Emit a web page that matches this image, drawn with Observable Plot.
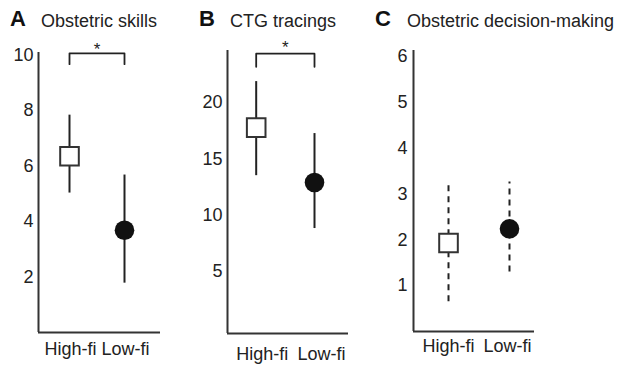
<!DOCTYPE html>
<html>
<head>
<meta charset="utf-8">
<script src="https://cdn.jsdelivr.net/npm/d3@7"></script>
<script src="https://cdn.jsdelivr.net/npm/@observablehq/plot@0.6"></script>
<style>
  html, body { margin: 0; padding: 0; background: #fff; }
  #chart { position: relative; width: 624px; height: 367px; overflow: hidden; font-family: "Liberation Sans", Arial, Helvetica, sans-serif; color: #222; }
  .panel { position: absolute; top: 0; }
  .title { position: absolute; font-size: 18px; line-height: 18px; white-space: nowrap; color: #222; }
  .letter { position: absolute; font-size: 22px; line-height: 22px; font-weight: bold; color: #111; }
</style>
</head>
<body>
<div id="chart"></div>
<script>
// ---- data ----
const groups = ["High-fi", "Low-fi"];

const skillsMean = [6.36, 3.69];
const skillsLo   = [5.03, 1.78];
const skillsHi   = [7.84, 5.68];

const ctgMean = [17.78, 12.89];
const ctgLo   = [13.5, 8.79];
const ctgHi   = [21.88, 17.25];

const decisionMean = [1.93, 2.24];
const decisionLo   = [0.65, 1.30];
const decisionHi   = [3.24, 3.26];

const ticksA = [2, 4, 6, 8, 10];
const ticksB = [5, 10, 15, 20];
const ticksC = [1, 2, 3, 4, 5, 6];

const panelLetters = ["A", "B", "C"];
const panelTitles = ["Obstetric skills", "CTG tracings", "Obstetric decision-making"];

// significance brackets: top of bracket, bottom of legs, star position
const bracketA = { top: 10.07, leg: 9.68, star: 10.2 };
const bracketB = { top: 24.37, leg: 23.2, star: 24.95 };

// ---- drawing ----
const chart = document.getElementById("chart");

function panel(opts) {
  const rows = groups.map((g, i) => ({ i, g, mean: opts.mean[i], lo: opts.lo[i], hi: opts.hi[i] }));
  const marks = [
    Plot.ruleX([opts.xDomain[0]], { stroke: "#333", strokeWidth: 2 }),
    Plot.ruleY([opts.yDomain[0]], { stroke: "#333", strokeWidth: 2 }),
    Plot.ruleX(rows, { x: "i", y1: "lo", y2: "hi", stroke: "#222", strokeWidth: 2,
      strokeDasharray: opts.dashed ? "6,5" : null }),
    Plot.dot(rows.filter(d => d.i === 0), { x: "i", y: "mean", symbol: "square", r: 10.5,
      fill: "white", stroke: "#333", strokeWidth: 2 }),
    Plot.dot(rows.filter(d => d.i === 1), { x: "i", y: "mean", r: 9.8, fill: "#111", stroke: "none" }),
    Plot.axisY({ ticks: opts.ticks, tickSize: 0, tickPadding: opts.yPad, fontSize: 18, label: null, tickFormat: d => d, fill: "#222" }),
    Plot.axisX([0], { tickSize: 0, tickPadding: opts.xPad, fontSize: 18, label: null,
      tickFormat: i => groups[i], dx: opts.dx0, fill: "#222" }),
    Plot.axisX([1], { tickSize: 0, tickPadding: opts.xPad, fontSize: 18, label: null,
      tickFormat: i => groups[i], dx: opts.dx1, fill: "#222" })
  ];
  if (opts.bracket) {
    const b = opts.bracket;
    marks.push(Plot.line([
      { x: 0, y: b.leg }, { x: 0, y: b.top }, { x: 1, y: b.top }, { x: 1, y: b.leg }
    ], { x: "x", y: "y", stroke: "#222", strokeWidth: 1.8 }));
    marks.push(Plot.text([{ x: 0.5, y: b.star }], { x: "x", y: "y", text: () => "*", fontSize: 17, fill: "#222" }));
  }
  const svg = Plot.plot({
    width: opts.width,
    height: 367,
    marginLeft: opts.ml, marginRight: opts.mr, marginTop: opts.mt, marginBottom: opts.mb,
    style: { background: "transparent", fontFamily: "Liberation Sans, Arial, sans-serif", fontSize: "18px", color: "#222", overflow: "visible" },
    x: { type: "linear", domain: opts.xDomain, axis: null },
    y: { domain: opts.yDomain, axis: null },
    marks
  });
  const wrap = document.createElement("div");
  wrap.className = "panel";
  wrap.style.left = opts.left + "px";
  wrap.appendChild(svg);
  chart.appendChild(wrap);
}

panel({ mean: skillsMean, lo: skillsLo, hi: skillsHi, ticks: ticksA,
  left: 0, width: 200, ml: 38, mr: 40, mt: 52, mb: 35,
  xDomain: [-0.5636, 1.6545], yDomain: [0, 10.1], yPad: 5, xPad: 10, dx0: 1, dx1: 1,
  bracket: bracketA });

panel({ mean: ctgMean, lo: ctgLo, hi: ctgHi, ticks: ticksB,
  left: 200, width: 160, ml: 27, mr: 12, mt: 50, mb: 34,
  xDomain: [-0.492, 1.583], yDomain: [-0.56, 24.65], yPad: 5, xPad: 14, dx0: 6, dx1: 7,
  bracket: bracketB });

panel({ mean: decisionMean, lo: decisionLo, hi: decisionHi, ticks: ticksC,
  left: 390, width: 234, ml: 23, mr: 90, mt: 50, mb: 36,
  xDomain: [-0.574, 1.41], yDomain: [0, 6.13], yPad: 6, xPad: 8, dx0: 0, dx1: -2,
  dashed: true });

// titles
const letterLeft = [10, 199, 375];
const titleLeft = [41, 230, 407];
panelLetters.forEach((L, k) => {
  const a = document.createElement("div");
  a.className = "letter";
  a.textContent = L;
  a.style.left = letterLeft[k] + "px";
  a.style.top = "8px";
  chart.appendChild(a);
  const t = document.createElement("div");
  t.className = "title";
  t.textContent = panelTitles[k];
  t.style.left = titleLeft[k] + "px";
  t.style.top = "12px";
  chart.appendChild(t);
});
</script>
</body>
</html>
